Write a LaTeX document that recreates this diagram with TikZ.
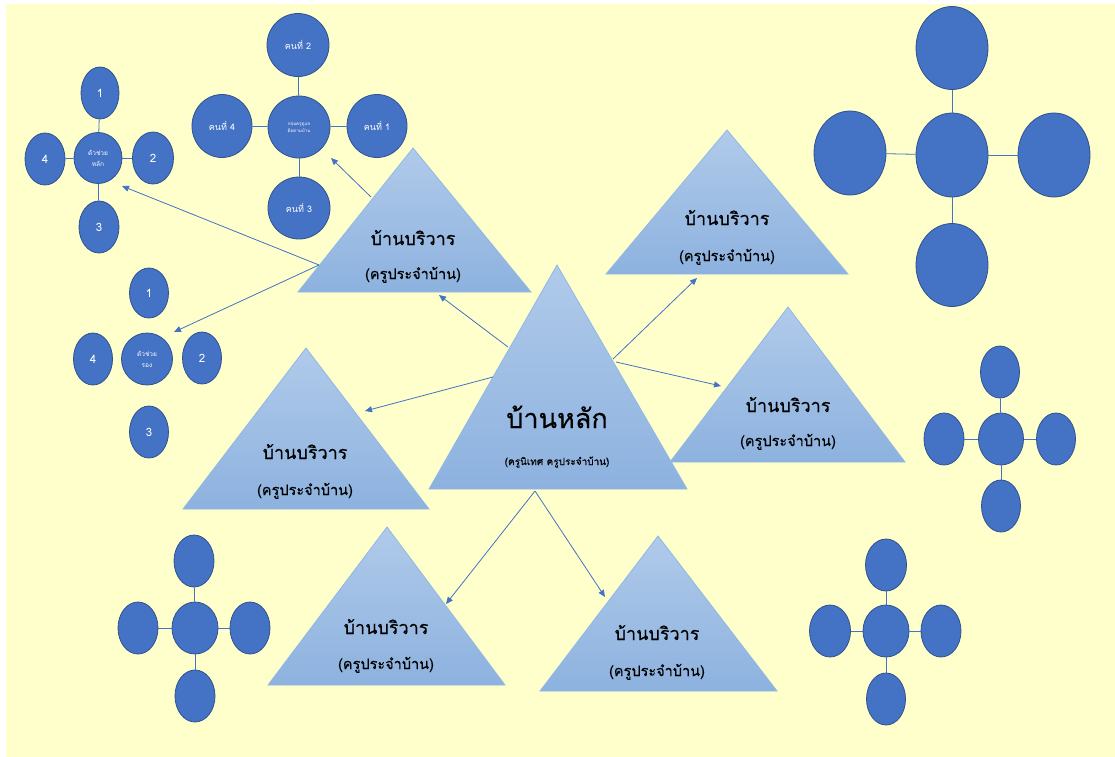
\documentclass[tikz,border=0pt]{standalone}
\usepackage{fontspec}
\newfontfamily\thai[Script=Thai]{Loma}
\newfontfamily\thaitri[Script=Thai,FakeBold=0.4]{Loma}
\usetikzlibrary{shapes.geometric,arrows.meta}
\definecolor{bg}{HTML}{FFFFCC}
\definecolor{dot}{HTML}{4472C4}
\definecolor{dotedge}{HTML}{2F528F}
\definecolor{tritop}{HTML}{B0CAEA}
\definecolor{tribot}{HTML}{8DB2DF}
\definecolor{triedge}{HTML}{8FB8E6}
\definecolor{arr}{HTML}{4472C4}
\begin{document}
\begin{tikzpicture}[x=1pt,y=-1pt,
  dotnode/.style={ellipse, fill=dot, draw=dotedge, line width=0.8pt, inner sep=0pt, text=white, align=center},
  numfont/.style={font=\thai\fontsize{11.5}{13}\selectfont},
  kfont/.style={font=\thai\fontsize{9}{10}\selectfont},
  hfont/.style={font=\thai\fontsize{6.5}{11}\selectfont},
  gfont/.style={font=\thai\fontsize{4.5}{7}\selectfont},
  link/.style={draw=arr, line width=0.8pt},
  arrowline/.style={draw=arr, line width=0.8pt, -{Triangle[length=7pt,width=6pt]}},
  tri/.style={top color=tritop, bottom color=tribot, draw=triedge, line width=0.8pt},
  tmain/.style={anchor=base, inner sep=0pt, font=\thaitri\fontsize{18}{20}\selectfont},
  tsub/.style={anchor=base, inner sep=0pt, font=\thaitri\fontsize{14.5}{16}\selectfont},
  tbig/.style={anchor=base, inner sep=0pt, font=\thaitri\fontsize{27}{30}\selectfont},
  tbigsub/.style={anchor=base, inner sep=0pt, font=\thaitri\fontsize{10}{12}\selectfont},
]
\useasboundingbox (0,0) rectangle (1115,756);
\fill[white] (0,0) rectangle (1115,756);
\fill[bg] (6,4) rectangle (1120,760);

% ---------- triangles ----------
\path[tri] (413,148) -- (531,292) -- (298,292) -- cycle;
\path[tri] (727,130) -- (848,274) -- (606,274) -- cycle;
\path[tri] (557,265) -- (687,489) -- (429,489) -- cycle;
\path[tri] (788,307) -- (905,462) -- (670,462) -- cycle;
\path[tri] (306,348) -- (429,509) -- (183,509) -- cycle;
\path[tri] (387,527) -- (505,685) -- (268,685) -- cycle;
\path[tri] (658,536) -- (777,691) -- (540,691) -- cycle;

\node[tmain] (t1a) at (413,245) {บ้านบริวาร};
\node[tsub]  (t1b) at (413,279) {(ครูประจำบ้าน)};
\node[tmain] (t2a) at (727,225) {บ้านบริวาร};
\node[tsub]  (t2b) at (727,261) {(ครูประจำบ้าน)};
\node[tbig]  (tma) at (557,428) {บ้านหลัก};
\node[tbigsub] (tmb) at (557,465) {(ครูนิเทศ ครูประจำบ้าน)};
\node[tmain] (t4a) at (788,412) {บ้านบริวาร};
\node[tsub]  (t4b) at (788,446) {(ครูประจำบ้าน)};
\node[tmain] (t5a) at (305,459) {บ้านบริวาร};
\node[tsub]  (t5b) at (305,495) {(ครูประจำบ้าน)};
\node[tmain] (t6a) at (386,634) {บ้านบริวาร};
\node[tsub]  (t6b) at (386,669) {(ครูประจำบ้าน)};
\node[tmain] (t7a) at (657,640) {บ้านบริวาร};
\node[tsub]  (t7b) at (657,676) {(ครูประจำบ้าน)};

% ---------- arrow end points ----------
\coordinate (ma) at (508,347);  \coordinate (ea) at (439,295);
\coordinate (mb) at (613,359);  \coordinate (eb) at (697,278);
\coordinate (mc) at (616,362);  \coordinate (ec) at (721,386);
\coordinate (md) at (493,377);  \coordinate (ed) at (365,411);
\coordinate (mv) at (535,491);
\coordinate (ee) at (446,604);  \coordinate (ef) at (605,597);
\coordinate (sa) at (371,197);  \coordinate (fa) at (331,158);
\coordinate (sb) at (319,265);
\coordinate (fb) at (122,186);  \coordinate (fc) at (174,332);

\draw[arrowline] (ma) -- (ea);
\draw[arrowline] (mb) -- (eb);
\draw[arrowline] (mc) -- (ec);
\draw[arrowline] (md) -- (ed);
\draw[arrowline] (mv) -- (ee);
\draw[arrowline] (mv) -- (ef);
\draw[arrowline] (sa) -- (fa);
\draw[arrowline] (sb) -- (fb);
\draw[arrowline] (sb) -- (fc);

% ---------- cluster A ----------
\node[dotnode, hfont, minimum width=48pt, minimum height=51pt] (ac) at (98,158) {ตัวช่วย\\หลัก};
\node[dotnode, numfont, minimum width=38pt, minimum height=52pt] (an) at (100,93) {1};
\node[dotnode, numfont, minimum width=41pt, minimum height=52pt] (ae) at (153,158) {2};
\node[dotnode, numfont, minimum width=40pt, minimum height=52pt] (as) at (99,227) {3};
\node[dotnode, numfont, minimum width=40pt, minimum height=52pt] (aw) at (45,159) {4};
\draw[link] (an) -- (ac); \draw[link] (ae) -- (ac);
\draw[link] (as) -- (ac); \draw[link] (aw) -- (ac);

% ---------- cluster B ----------
\node[dotnode, gfont, minimum width=62pt, minimum height=62pt] (bc) at (299,127) {กลุ่มครูดูแล\\ติดตามบ้าน};
\node[dotnode, kfont, minimum width=62pt, minimum height=63pt] (bn) at (298,45) {คนที่ 2};
\node[dotnode, kfont, minimum width=60pt, minimum height=63pt] (be) at (377,126) {คนที่ 1};
\node[dotnode, kfont, minimum width=62pt, minimum height=62pt] (bs) at (299,208) {คนที่ 3};
\node[dotnode, kfont, minimum width=60pt, minimum height=63pt] (bw) at (222,126) {คนที่ 4};
\draw[link] (bn) -- (bc); \draw[link] (be) -- (bc);
\draw[link] (bs) -- (bc); \draw[link] (bw) -- (bc);

% ---------- cluster C ----------
\node[dotnode, hfont, minimum width=51pt, minimum height=52pt] (cc) at (147,359) {ตัวช่วย\\รอง};
\node[dotnode, numfont, minimum width=39pt, minimum height=50pt] (cn) at (149,293) {1};
\node[dotnode, numfont, minimum width=39pt, minimum height=52pt] (ce) at (202,358) {2};
\node[dotnode, numfont, minimum width=39pt, minimum height=52pt] (cs) at (149,432) {3};
\node[dotnode, numfont, minimum width=39pt, minimum height=52pt] (cw) at (93,359) {4};

% ---------- cluster D ----------
\node[dotnode, minimum width=72pt, minimum height=84pt] (dc) at (952,155) {};
\node[dotnode, minimum width=72pt, minimum height=83pt] (dn) at (952,48) {};
\node[dotnode, minimum width=72pt, minimum height=84pt] (de) at (1054,155) {};
\node[dotnode, minimum width=72pt, minimum height=83pt] (ds) at (952,265) {};
\node[dotnode, minimum width=72pt, minimum height=84pt] (dw) at (850,153) {};
\draw[link] (dn) -- (dc); \draw[link] (de) -- (dc);
\draw[link] (ds) -- (dc); \draw[link] (dw) -- (dc);

% ---------- cluster E ----------
\node[dotnode, minimum width=45pt, minimum height=52pt] (ec0) at (1001,439) {};
\node[dotnode, minimum width=39pt, minimum height=52pt] (en) at (1000,372) {};
\node[dotnode, minimum width=39pt, minimum height=52pt] (ee0) at (1056,439) {};
\node[dotnode, minimum width=39pt, minimum height=52pt] (es) at (1001,506) {};
\node[dotnode, minimum width=40pt, minimum height=52pt] (ew) at (944,439) {};
\draw[link] (en) -- (ec0); \draw[link] (ee0) -- (ec0);
\draw[link] (es) -- (ec0); \draw[link] (ew) -- (ec0);

% ---------- cluster F ----------
\node[dotnode, minimum width=46pt, minimum height=52pt] (fc0) at (195,628) {};
\node[dotnode, minimum width=40pt, minimum height=52pt] (fn) at (194,561) {};
\node[dotnode, minimum width=40pt, minimum height=52pt] (fe) at (250,628) {};
\node[dotnode, minimum width=40pt, minimum height=52pt] (fs) at (195,696) {};
\node[dotnode, minimum width=40pt, minimum height=52pt] (fw) at (138,628) {};
\draw[link] (fn) -- (fc0); \draw[link] (fe) -- (fc0);
\draw[link] (fs) -- (fc0); \draw[link] (fw) -- (fc0);

% ---------- cluster G ----------
\node[dotnode, minimum width=46pt, minimum height=52pt] (gc) at (886,631) {};
\node[dotnode, minimum width=41pt, minimum height=52pt] (gn) at (886,565) {};
\node[dotnode, minimum width=40pt, minimum height=52pt] (ge) at (941,631) {};
\node[dotnode, minimum width=39pt, minimum height=52pt] (gs) at (886,699) {};
\node[dotnode, minimum width=41pt, minimum height=52pt] (gw) at (830,631) {};
\draw[link] (gn) -- (gc); \draw[link] (ge) -- (gc);
\draw[link] (gs) -- (gc); \draw[link] (gw) -- (gc);
\end{tikzpicture}
\end{document}
